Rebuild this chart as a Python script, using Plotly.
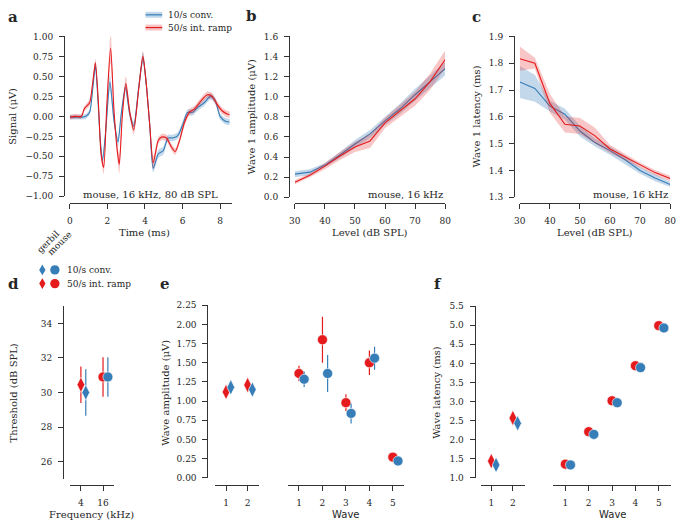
import plotly.graph_objects as go

W, H = 684, 528
BLUE = "#377eb8"
RED = "#e41a1c"
BLUE_BAND = "rgba(55,126,184,0.30)"
RED_BAND = "rgba(228,26,28,0.25)"
TXT = "#262626"
SERIF = "DejaVu Serif"

# ---------------- data ----------------
# panel a: waveform, 16 kHz 80 dB SPL (mouse)
t_conv = [0.0, 0.3, 0.61, 0.85, 1.05, 1.22, 1.36, 1.48, 1.62, 1.74, 1.92, 2.13, 2.35, 2.56, 2.73, 2.96, 3.19,
          3.40, 3.66, 3.89, 4.05, 4.25, 4.44, 4.71, 4.97, 5.23, 5.49, 5.75, 6.01, 6.27, 6.54, 6.8, 7.15, 7.49,
          7.75, 8.0, 8.28, 8.5]
sig_conv = [-0.01, -0.01, -0.01, 0.0, 0.05, 0.35, 0.63, 0.27, -0.30, -0.55, -0.15, 0.43, -0.05, -0.32, 0.02,
            0.36, 0.03, -0.12, 0.35, 0.73, 0.45, -0.1, -0.65, -0.47, -0.43, -0.27, -0.27, -0.24, -0.10, 0.05,
            0.05, 0.11, 0.17, 0.25, 0.19, 0.0, -0.06, -0.07]
sem_conv = [0.03, 0.03, 0.03, 0.03, 0.03, 0.04, 0.05, 0.05, 0.05, 0.06, 0.06, 0.10, 0.06, 0.06, 0.05, 0.05,
            0.05, 0.05, 0.05, 0.08, 0.07, 0.06, 0.05, 0.05, 0.05, 0.04, 0.04, 0.04, 0.04, 0.04, 0.04, 0.04,
            0.04, 0.04, 0.04, 0.04, 0.04, 0.04]
t_ramp = [0.0, 0.3, 0.61, 0.78, 1.05, 1.22, 1.36, 1.53, 1.66, 1.80, 1.97, 2.17, 2.35, 2.51, 2.63, 2.79, 2.98,
          3.19, 3.40, 3.66, 3.89, 4.05, 4.25, 4.44, 4.71, 4.88, 5.14, 5.4, 5.61, 5.84, 6.1, 6.36, 6.62, 6.97,
          7.32, 7.58, 7.84, 8.1, 8.37, 8.5]
sig_ramp = [-0.01, 0.0, 0.0, 0.1, 0.17, 0.43, 0.67, 0.12, -0.47, -0.64, 0.15, 0.85, 0.07, -0.40, -0.60, 0.0,
            0.41, 0.05, -0.17, 0.33, 0.75, 0.45, -0.1, -0.58, -0.30, -0.26, -0.27, -0.38, -0.44, -0.30, -0.08,
            0.05, 0.09, 0.19, 0.27, 0.25, 0.15, 0.07, 0.03, 0.02]
sem_ramp = [0.03, 0.03, 0.03, 0.03, 0.04, 0.04, 0.05, 0.06, 0.06, 0.08, 0.08, 0.18, 0.08, 0.08, 0.12, 0.06,
            0.09, 0.06, 0.06, 0.06, 0.06, 0.06, 0.06, 0.08, 0.04, 0.04, 0.04, 0.04, 0.04, 0.04, 0.04, 0.04,
            0.04, 0.04, 0.04, 0.04, 0.04, 0.04, 0.04, 0.04]

# panels b, c: level series
levels = [30, 35, 40, 45, 50, 55, 60, 65, 70, 75, 80]
amp_conv = [0.23, 0.25, 0.32, 0.42, 0.53, 0.63, 0.76, 0.88, 1.02, 1.15, 1.28]
amp_conv_sem = [0.03, 0.03, 0.02, 0.03, 0.04, 0.04, 0.04, 0.05, 0.06, 0.06, 0.07]
amp_ramp = [0.15, 0.22, 0.31, 0.41, 0.50, 0.56, 0.74, 0.86, 0.98, 1.15, 1.37]
amp_ramp_sem = [0.02, 0.02, 0.03, 0.04, 0.05, 0.07, 0.05, 0.06, 0.07, 0.08, 0.09]
lat_conv = [1.73, 1.706, 1.64, 1.61, 1.547, 1.504, 1.474, 1.44, 1.40, 1.372, 1.348]
lat_conv_sem = [0.06, 0.05, 0.02, 0.02, 0.02, 0.015, 0.015, 0.015, 0.012, 0.012, 0.01]
lat_ramp = [1.817, 1.80, 1.65, 1.572, 1.566, 1.529, 1.48, 1.45, 1.419, 1.392, 1.37]
lat_ramp_sem = [0.045, 0.02, 0.035, 0.03, 0.03, 0.03, 0.015, 0.012, 0.01, 0.01, 0.01]

# panel d: thresholds
freq_labels = ["4", "16"]
thr_ramp = [30.45, 30.9]
thr_ramp_err = [1.05, 1.15]
thr_conv = [30.0, 30.9]
thr_conv_err = [1.35, 1.15]

# panels e, f: waves (gerbil waves 1-2, mouse waves 1-5)
gerbil_waves = [1, 2]
mouse_waves = [1, 2, 3, 4, 5]
g_amp_ramp = [1.12, 1.21]
g_amp_ramp_err = [0.05, 0.06]
g_amp_conv = [1.18, 1.15]
g_amp_conv_err = [0.05, 0.05]
m_amp_ramp = [1.36, 1.80, 0.98, 1.50, 0.27]
m_amp_ramp_err = [0.10, 0.30, 0.11, 0.16, 0.03]
m_amp_conv = [1.285, 1.36, 0.84, 1.56, 0.22]
m_amp_conv_err = [0.10, 0.24, 0.13, 0.15, 0.03]
g_lat_ramp = [1.44, 2.57]
g_lat_conv = [1.34, 2.43]
g_lat_err = [0.05, 0.06]
m_lat_ramp = [1.36, 2.21, 3.02, 3.94, 4.99]
m_lat_conv = [1.34, 2.14, 2.97, 3.89, 4.93]
m_lat_err = [0.03, 0.03, 0.03, 0.03, 0.03]

DODGE = 0.22

# ---------------- helpers ----------------
def X(px):
    return px / W


def Y(py):
    return 1 - py / H


fig = go.Figure()


def band(x, m, s, xa, ya, color, fill, shape):
    ln = dict(width=0, shape=shape)
    if shape == "spline":
        ln["smoothing"] = 0.7
    fig.add_trace(go.Scatter(x=x, y=[a + b for a, b in zip(m, s)], mode="lines", line=ln,
                             xaxis=xa, yaxis=ya, showlegend=False, hoverinfo="skip"))
    fig.add_trace(go.Scatter(x=x, y=[a - b for a, b in zip(m, s)], mode="lines", line=ln,
                             fill="tonexty", fillcolor=fill, xaxis=xa, yaxis=ya, showlegend=False, hoverinfo="skip"))
    fig.add_trace(go.Scatter(x=x, y=m, mode="lines", line=dict(ln, color=color, width=1.1),
                             xaxis=xa, yaxis=ya, showlegend=False))


def pts(x, y, err, xa, ya, color, symbol, size, offset=0.0):
    fig.add_trace(go.Scatter(x=[v + offset for v in x], y=y, mode="markers", xaxis=xa, yaxis=ya,
                             marker=dict(color=color, symbol=symbol, size=size, line=dict(color="white", width=0.6)),
                             error_y=dict(type="data", array=err, color=color, thickness=1.2, width=0),
                             cliponaxis=False, showlegend=False))


# panel a
band(t_conv, sig_conv, sem_conv, "x", "y", BLUE, BLUE_BAND, "spline")
band(t_ramp, sig_ramp, sem_ramp, "x", "y", RED, RED_BAND, "spline")
# panel b
band(levels, amp_conv, amp_conv_sem, "x2", "y2", BLUE, BLUE_BAND, "linear")
band(levels, amp_ramp, amp_ramp_sem, "x2", "y2", RED, RED_BAND, "linear")
# panel c
band(levels, lat_conv, lat_conv_sem, "x3", "y3", BLUE, BLUE_BAND, "linear")
band(levels, lat_ramp, lat_ramp_sem, "x3", "y3", RED, RED_BAND, "linear")
# panel d
pts([0], thr_ramp[:1], thr_ramp_err[:1], "x4", "y4", RED, "diamond-tall", 11)
pts([0], thr_conv[:1], thr_conv_err[:1], "x4", "y4", BLUE, "diamond-tall", 11, DODGE)
pts([1], thr_ramp[1:], thr_ramp_err[1:], "x4", "y4", RED, "circle", 10)
pts([1], thr_conv[1:], thr_conv_err[1:], "x4", "y4", BLUE, "circle", 10, DODGE)
# panel e
pts(gerbil_waves, g_amp_ramp, g_amp_ramp_err, "x5", "y5", RED, "diamond-tall", 11)
pts(gerbil_waves, g_amp_conv, g_amp_conv_err, "x5", "y5", BLUE, "diamond-tall", 11, DODGE)
pts(mouse_waves, m_amp_ramp, m_amp_ramp_err, "x6", "y5", RED, "circle", 10)
pts(mouse_waves, m_amp_conv, m_amp_conv_err, "x6", "y5", BLUE, "circle", 10, DODGE)
# panel f
pts(gerbil_waves, g_lat_ramp, g_lat_err, "x7", "y6", RED, "diamond-tall", 11)
pts(gerbil_waves, g_lat_conv, g_lat_err, "x7", "y6", BLUE, "diamond-tall", 11, DODGE)
pts(mouse_waves, m_lat_ramp, m_lat_err, "x8", "y6", RED, "circle", 10)
pts(mouse_waves, m_lat_conv, m_lat_err, "x8", "y6", BLUE, "circle", 10, DODGE)

axis_common = dict(showgrid=False, zeroline=False, showline=True, linecolor="#333333", linewidth=1,
                   ticks="outside", ticklen=5, tickwidth=1, tickcolor="#333333", ticklabelstandoff=4,
                   tickfont=dict(family=SERIF, size=9, color=TXT), anchor="free")


def xax(x0, x1, liney, rng, **kw):
    d = dict(axis_common, domain=[X(x0), X(x1)], position=Y(liney), range=rng)
    d.update(kw)
    return d


def yax(top, bot, linex, rng, **kw):
    d = dict(axis_common, domain=[Y(bot), Y(top)], position=X(linex), range=rng)
    d.update(kw)
    return d


fig.update_layout(
    width=W, height=H, margin=dict(l=0, r=0, t=0, b=0),
    paper_bgcolor="white", plot_bgcolor="white",
    font=dict(family=SERIF, size=10, color=TXT),
    xaxis=xax(65, 230, 202, [0, 8.63], tickvals=[0, 2, 4, 6, 8]),
    yaxis=yax(32, 195, 59, [-1, 1], tickvals=[-1, -0.75, -0.5, -0.25, 0, 0.25, 0.5, 0.75, 1], tickformat=".2f"),
    xaxis2=xax(294, 447, 202, [30, 80], tickvals=[30, 40, 50, 60, 70, 80]),
    yaxis2=yax(32, 196, 288, [0, 1.6], dtick=0.2, tick0=0, tickformat=".1f"),
    xaxis3=xax(523, 676, 202, [30, 80], tickvals=[30, 40, 50, 60, 70, 80]),
    yaxis3=yax(32, 196, 517, [1.3, 1.9], dtick=0.1, tick0=1.3, tickformat=".1f"),
    xaxis4=xax(65, 110, 489, [-0.5, 1.5], tickvals=[0, 1], ticktext=freq_labels),
    yaxis4=yax(307, 483, 58, [25, 35], tickvals=[26, 28, 30, 32, 34]),
    xaxis5=xax(213, 258, 489, [0.5, 2.55], tickvals=gerbil_waves),
    xaxis6=xax(287, 405, 489, [0.53, 5.47], tickvals=mouse_waves),
    yaxis5=yax(306, 482, 205, [0, 2.25], dtick=0.25, tick0=0, tickformat=".2f"),
    xaxis7=xax(483, 528, 489, [0.5, 2.55], tickvals=gerbil_waves),
    xaxis8=xax(557, 677, 489, [0.48, 5.53], tickvals=mouse_waves),
    yaxis6=yax(307, 482, 477, [1.0, 5.5], dtick=0.5, tick0=1.0, tickformat=".1f"),
)

ann = []


def text(x, y, s, size=10, angle=0, bold=False, xanchor="center", family=SERIF):
    ann.append(dict(x=X(x), y=Y(y), xref="paper", yref="paper", text=("<b>%s</b>" % s) if bold else s,
                    showarrow=False, textangle=angle, xanchor=xanchor, yanchor="middle",
                    font=dict(family=family, size=size, color=TXT)))


# panel letters
text(7, 12, "a", 15, bold=True)
text(250, 11, "b", 15, bold=True)
text(479, 12, "c", 15, bold=True)
text(8, 284, "d", 15, bold=True)
text(162, 284, "e", 15, bold=True)
text(440, 284, "f", 15, bold=True)
# axis titles
text(7, 113, "Signal (μV)", angle=-90)
text(141, 232, "Time (ms)")
text(250, 114, "Wave 1 amplitude (μV)", angle=-90)
text(370, 232, "Level (dB SPL)")
text(479, 114, "Wave 1 latency (ms)", angle=-90)
text(600, 232, "Level (dB SPL)")
text(8, 395, "Threshold (dB SPL)", angle=-90)
text(87, 519, "Frequency (kHz)")
text(162, 395, "Wave amplitude (μV)", angle=-90)
text(346, 519, "Wave", family="DejaVu Sans")
text(438, 395, "Wave latency (ms)", angle=-90)
text(617, 519, "Wave", family="DejaVu Sans")
# in-panel labels
text(218, 193, "mouse, 16 kHz, 80 dB SPL", xanchor="right")
text(447, 193, "mouse, 16 kHz", xanchor="right")
text(676, 193, "mouse, 16 kHz", xanchor="right")
# top legend
text(163, 10, "10/s conv.", 9, xanchor="left")
text(163, 23, "50/s int. ramp", 9, xanchor="left")
# bottom legend
text(43, 242, "gerbil", 9, angle=-45)
text(55, 243, "mouse", 9, angle=-45)
text(60, 270, "10/s conv.", 9, xanchor="left")
text(60, 284, "50/s int. ramp", 9, xanchor="left")
fig.update_layout(annotations=ann)

shapes = []
for yy, col, bandc in [(10, BLUE, BLUE_BAND), (23, RED, RED_BAND)]:
    shapes.append(dict(type="line", xref="paper", yref="paper", x0=X(142), x1=X(159), y0=Y(yy), y1=Y(yy),
                       line=dict(color=bandc, width=6)))
    shapes.append(dict(type="line", xref="paper", yref="paper", x0=X(142), x1=X(159), y0=Y(yy), y1=Y(yy),
                       line=dict(color=col, width=1.2)))
for yy, col in [(270, BLUE), (284, RED)]:
    cx = 37
    path = "M %f %f L %f %f L %f %f L %f %f Z" % (X(cx), Y(yy - 5.5), X(cx + 3.2), Y(yy), X(cx), Y(yy + 5.5),
                                                  X(cx - 3.2), Y(yy))
    shapes.append(dict(type="path", xref="paper", yref="paper", path=path, fillcolor=col, line=dict(width=0)))
    shapes.append(dict(type="circle", xref="paper", yref="paper", x0=X(45), x1=X(54.5), y0=Y(yy + 4.75),
                       y1=Y(yy - 4.75), fillcolor=col, line=dict(width=0)))
fig.update_layout(shapes=shapes)

fig.write_html("out.html", config={"displayModeBar": False},
               post_script="document.body.style.margin='0';document.body.style.overflow='hidden';")
